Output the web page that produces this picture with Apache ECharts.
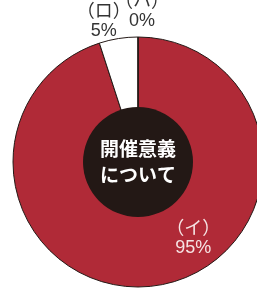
<!DOCTYPE html>
<html>
<head>
<meta charset="utf-8">
<script src="https://cdn.jsdelivr.net/npm/echarts@6/dist/echarts.min.js"></script>
<style>
html, body { margin: 0; padding: 0; background: #fff; }
#chart { width: 257px; height: 299px; }
</style>
</head>
<body>
<div id="chart"></div>
<script>
var names = ["（イ）", "（ロ）", "（ハ）"];
var values = [95, 5, 0];
var colors = ["#b02a37", "#ffffff", "#ffffff"];
var labelColors = ["#f6e4e4", "#333333", "#333333"];
var labelOffsets = [[45, 12], [-24, -76], [4, -84]];
var centerTitle = "開催意義\nについて";
var labelFont = "'Liberation Sans', 'Noto Sans CJK JP'";

function labelText(name, value) {
	return name + "\n" + value + "%";
}

var data = [];
for (var i = 0; i < names.length; i++) {
	data.push({
		name: names[i],
		value: values[i],
		itemStyle: { color: colors[i] },
		label: { color: labelColors[i], offset: labelOffsets[i] }
	});
}

var chart = echarts.init(document.getElementById("chart"));
chart.setOption({
	animation: false,
	// ECharts drops the label of a 0 slice, so the (ハ) one goes here
	graphic: [{
		type: "text",
		x: 142,
		y: 12,
		silent: true,
		style: {
			text: labelText(names[2], values[2]),
			fill: labelColors[2],
			font: "18px " + labelFont,
			lineHeight: 19,
			align: "center",
			verticalAlign: "middle"
		}
	}],
	series: [{
		type: "pie",
		center: [138, 162],
		radius: [0, 125],
		startAngle: 90,
		clockwise: true,
		avoidLabelOverlap: false,
		itemStyle: { borderColor: "#231815", borderWidth: 1 },
		label: {
			show: true,
			position: "inside",
			fontFamily: labelFont,
			fontSize: 18,
			lineHeight: 19,
			align: "center",
			formatter: function(p) { return labelText(p.name, p.value); }
		},
		labelLine: { show: false },
		emphasis: { disabled: true },
		data: data
	}, {
		type: "pie",
		center: [138, 162],
		radius: [0, 55],
		silent: true,
		itemStyle: { color: "#231815" },
		label: {
			show: true,
			position: "center",
			color: "#ffffff",
			fontFamily: "Noto Sans CJK JP",
			fontWeight: "bold",
			fontSize: 19,
			lineHeight: 26,
			formatter: centerTitle
		},
		labelLine: { show: false },
		data: [{ name: "center", value: 1 }]
	}]
});
</script>
</body>
</html>
